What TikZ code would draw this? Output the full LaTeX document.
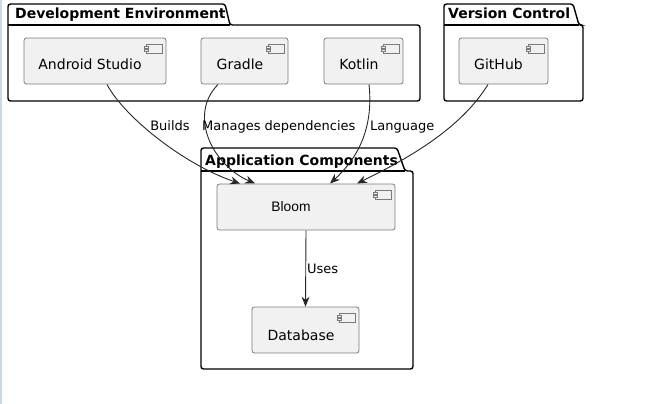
\documentclass[tikz,border=0pt]{standalone}
\usepackage{fontspec}
\setmainfont{DejaVu Sans}
\newfontfamily\blfont{Liberation Sans}
\usetikzlibrary{arrows.meta}
\definecolor{compfill}{HTML}{F1F1F1}
\definecolor{compline}{HTML}{7A7A7A}
\definecolor{edgeblue}{HTML}{C9D9EA}
\tikzset{
  comp/.style={draw=compline, fill=compfill, line width=0.8pt, rounded corners=2.5pt, inner sep=0pt},
  ctext/.style={font=\fontsize{14}{16}\selectfont, inner sep=0pt, anchor=base},
  pkgline/.style={draw=black, line width=1.4pt, rounded corners=2.5pt},
  ptitle/.style={font=\bfseries\fontsize{14}{16}\selectfont, inner sep=0pt, anchor=base west},
  elabel/.style={font=\fontsize{13}{15}\selectfont, inner sep=0pt, anchor=base},
  conn/.style={draw=black!85, line width=0.9pt, -{Stealth[length=10pt,width=8pt,inset=3.5pt]}},
  icon/.style={draw=compline, fill=compfill, line width=0.7pt}
}
\newcommand{\compicon}[1]{%
  \draw[icon] ([xshift=-20pt,yshift=-6.5pt]#1.north east) rectangle ([xshift=-4.5pt,yshift=-16pt]#1.north east);
  \draw[icon] ([xshift=-22pt,yshift=-8.5pt]#1.north east) rectangle ([xshift=-18pt,yshift=-10.5pt]#1.north east);
  \draw[icon] ([xshift=-22pt,yshift=-12pt]#1.north east) rectangle ([xshift=-18pt,yshift=-14pt]#1.north east);
}
% \pkgshape{x1}{ytop}{ytab}{x2}{ybottom}{tabright}{slantright}
\newcommand{\pkgshape}[7]{%
  \draw[pkgline] (#1,#3) -- (#1,#2) -- (#6,#2) -- (#7,#3) -- (#4,#3) -- (#4,#5) -- (#1,#5) -- cycle;
  \draw[black, line width=1.4pt] (#1,#3) -- (#7,#3);
}
\begin{document}
\begin{tikzpicture}[x=1pt,y=-1pt]
\useasboundingbox (0,0) rectangle (664,404);
\fill[edgeblue] (0,0) rectangle (1.5,404);

% packages
\pkgshape{8}{4}{25}{420}{101}{225}{230}
\node[ptitle] (devt) at (15,19) {Development Environment};
\pkgshape{444}{4}{25}{583}{101}{573}{579}
\node[ptitle] (vct) at (448,19) {Version Control};
\pkgshape{201}{148}{171}{413}{369}{397}{405}
\node[ptitle] (appt) at (205,165) {Application Components};

% components
\node[comp, minimum width=142pt, minimum height=46pt] (as) at (95,61) {};
\node[ctext] (ast) at (90,70) {Android Studio};
\compicon{as}
\node[comp, minimum width=87pt, minimum height=46pt] (gr) at (244.5,61) {};
\node[ctext] (grt) at (240,70) {Gradle};
\compicon{gr}
\node[comp, minimum width=79pt, minimum height=46pt] (kt) at (363.5,61) {};
\node[ctext] (ktt) at (359,70) {Kotlin};
\compicon{kt}
\node[comp, minimum width=89pt, minimum height=46pt] (gh) at (503.5,61) {};
\node[ctext] (ght) at (498.5,70) {GitHub};
\compicon{gh}
\node[comp, minimum width=178pt, minimum height=46pt] (bl) at (306,207) {};
\node[ctext, font=\blfont\fontsize{13.8}{16}\selectfont] (blt) at (291,211) {Bloom};
\compicon{bl}
\node[comp, minimum width=107pt, minimum height=46pt] (db) at (305.5,330) {};
\node[ctext] (dbt) at (301,340) {Database};
\compicon{db}

% connectors
\coordinate (asS) at (107,84.5);
\coordinate (grS) at (218,84.5);
\coordinate (ktS) at (369,84.5);
\coordinate (ghS) at (488,84.5);
\coordinate (blA) at (240,183.5);
\coordinate (blB) at (255,183.5);
\coordinate (blC) at (330,183.5);
\coordinate (blD) at (357,183.5);
\draw[conn] (asS) .. controls (125,118) and (185,165) .. (blA);
\draw[conn] (grS) .. controls (188,115) and (212,165) .. (blB);
\draw[conn] (ktS) .. controls (374,130) and (356,160) .. (blC);
\draw[conn] (ghS) .. controls (460,130) and (405,160) .. (blD);
\draw[conn] (bl.south) -- (db.north);

% labels
\node[elabel] (l1) at (170,130) {Builds};
\node[elabel, anchor=base west] (l2) at (202,130) {Manages dependencies};
\node[elabel, anchor=base west] (l3) at (370,130) {Language};
\node[elabel, anchor=base west] (l4) at (307,273) {Uses};
\end{tikzpicture}
\end{document}
